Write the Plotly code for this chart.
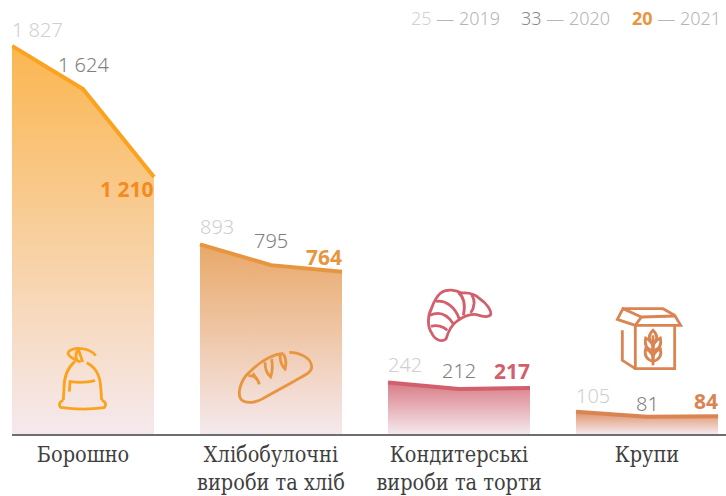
import re
import plotly.graph_objects as go

categories = ["Борошно", "Хлібобулочні<br>вироби та хліб", "Кондитерські<br>вироби та торти", "Крупи"]
years = [2019, 2020, 2021]
values_2019 = [1827, 893, 242, 105]
values_2020 = [1624, 795, 212, 81]
values_2021 = [1210, 764, 217, 84]
legend_counts = [25, 33, 20]

line_colors = ["#FBA21E", "#E8953F", "#D25F6B", "#DA8452"]
top_colors = ["#FBB650", "#E9A868", "#D97C86", "#DF9268"]
label_colors = ["#F58A1F", "#E8953F", "#D25F6B", "#DA8452"]
year_colors = ["#CFCFCF", "#808080"]
bottom_color = "#F5E9EE"
NUM_FONT = "Noto Sans"
CAT_FONT = "DejaVu Serif Condensed"

W, H = 726, 496
BASE_PX = 434
PX_PER_UNIT = 0.2124
GROUP_STEP = 188
OFFSET = 71 / GROUP_STEP

fmt = lambda v: f"{v:,}".replace(",", " ")

fig = go.Figure()
annotations = []
# vertical offset (px) of each label from its point
label_dy = [[16, 25, -12], [18, 25, 15], [18, 18, 17], [16, 13, 15]]
anchors = ["left", "center", "right"]

for i in range(4):
    vals = [values_2019[i], values_2020[i], values_2021[i]]
    xs = [i - OFFSET, i, i + OFFSET]
    fig.add_trace(go.Scatter(
        x=xs, y=vals, mode="lines", fill="tozeroy",
        line=dict(color=line_colors[i], width=4, shape="linear"),
        fillgradient=dict(type="vertical",
                          colorscale=[[0, bottom_color], [1, top_colors[i]]]),
        hoverinfo="skip", showlegend=False, cliponaxis=True,
    ))
    for j in range(3):
        bold = j == 2
        annotations.append(dict(
            x=xs[j], y=vals[j], xref="x", yref="y",
            text=f"<b>{fmt(vals[j])}</b>" if bold else fmt(vals[j]),
            showarrow=False, xanchor=anchors[j], yanchor="middle",
            yshift=label_dy[i][j], borderpad=0, borderwidth=0,
            font=dict(family=NUM_FONT, size=21 if bold else 20, weight=300,
                      color=label_colors[i] if bold else year_colors[j]),
        ))

# legend text
legend_x = [409, 519, 630]
legend_cols = ["#D2D2D2", "#8A8A8A", "#E8953F"]
for k in range(3):
    num = f"<b>{legend_counts[k]}</b>" if k == 2 else f"{legend_counts[k]}"
    annotations.append(dict(
        x=legend_x[k] / W, y=1 - 18 / H, xref="paper", yref="paper",
        xanchor="left", yanchor="middle", showarrow=False,
        text=f"<span style='color:{legend_cols[k]}'>{num}</span> — {years[k]}",
        font=dict(family=NUM_FONT, size=18, weight=300, color="#B5B5B5"),
    ))


def icon(path, ox, oy, color, width=2.8):
    """Decorative glyph: path written in 3x crop pixels, turned into paper coords."""
    toks = re.findall(r"[A-Za-z]|-?\d+\.?\d*", path)
    out, nx = [], True
    for t in toks:
        if t.isalpha():
            out.append(t); nx = True
        elif nx:
            out.append(f"{(ox + float(t) / 3) / W:.5f}"); nx = False
        else:
            out.append(f"{1 - (oy + float(t) / 3) / H:.5f}"); nx = True
    return dict(type="path", xref="paper", yref="paper", path=" ".join(out),
                line=dict(color=color, width=width), layer="above",
                fillcolor="rgba(0,0,0,0)")


bag = [
    "M137 47 C125 30 100 24 80 25 C62 27 52 35 55 43 C60 52 75 60 92 66",
    "M85 28 C76 40 76 52 82 64 M85 28 C90 42 94 54 98 66",
    "M75 64 C50 85 42 110 42 145 L40 180",
    "M110 68 C135 80 150 105 152 140 L155 180",
    "M40 180 C28 186 25 195 32 202 C70 208 125 208 162 203 C170 196 168 186 155 180",
    "M58 155 L60 125 C85 128 110 128 135 122",
]
bread = [
    "M178 22 C210 22 245 40 245 65 C245 85 215 95 195 107 L100 160 C80 172 50 178 35 165 C20 150 30 105 60 80 C90 50 125 28 160 25",
    "M55 92 C75 92 85 105 88 118 C85 108 78 95 68 85",
    "M105 52 C105 75 112 88 122 96 C128 78 128 60 125 42",
    "M150 30 C150 50 155 62 165 72 C170 55 168 40 160 27",
]
croissant = [
    "M62 30 C80 15 110 22 125 30 C150 28 165 32 180 48 C200 60 215 85 212 95 C205 105 185 100 170 95 C150 92 130 100 110 115 C95 125 85 145 78 168 C65 178 45 172 35 150 C22 130 22 100 35 75 C42 55 50 40 62 30 Z",
    "M33 130 C50 125 70 130 82 142",
    "M30 97 C55 85 80 92 100 122",
    "M48 55 C75 50 105 70 118 108",
    "M115 28 C135 45 135 75 130 97",
    "M155 35 C165 50 165 70 152 90",
]
box = [
    "M82 70 L200 70 L200 200 L82 200 Z",
    "M43 85 L43 175 L82 200",
    "M82 70 L28 52 L45 20 L100 45 Z",
    "M45 20 L165 20 L200 40 L218 70 L200 70",
    "M100 45 L200 42",
    "M135 190 L135 100",
    "M135 85 C120 100 120 112 135 125 C150 112 150 100 135 85 Z",
    "M113 108 C108 130 118 142 135 147 C137 128 128 115 113 108 Z",
    "M157 108 C162 130 152 142 135 147 C133 128 142 115 157 108 Z",
    "M113 140 C108 162 118 174 135 178 C137 160 128 147 113 140 Z",
    "M157 140 C162 162 152 174 135 178 C133 160 142 147 157 140 Z",
]
shapes = []
shapes += [icon(p, 50, 340, line_colors[0]) for p in bag]
shapes += [icon(p, 230, 345, line_colors[1]) for p in bread]
shapes += [icon(p, 420, 283, line_colors[2]) for p in croissant]
shapes += [icon(p, 608, 302, line_colors[3]) for p in box]

CENTER = 83
x0 = (12 - CENTER) / GROUP_STEP
x1 = (W - CENTER) / GROUP_STEP
fig.update_layout(
    width=W, height=H, autosize=False,
    margin=dict(l=0, r=0, t=0, b=0, pad=0),
    paper_bgcolor="white", plot_bgcolor="rgba(0,0,0,0)",
    annotations=annotations, shapes=shapes, showlegend=False,
    xaxis=dict(domain=[12 / W, 1], range=[x0, x1], tickmode="array", automargin=False,
               tickvals=list(range(4)), ticktext=categories, showgrid=False,
               zeroline=False, showline=True, linecolor="#6E6E6E", linewidth=1.5,
               ticks="outside", ticklen=0, tickcolor="rgba(0,0,0,0)",
               tickfont=dict(family=CAT_FONT, size=21.5, color="#3F3F3F")),
    yaxis=dict(domain=[(H - BASE_PX) / H, 1], range=[0, BASE_PX / PX_PER_UNIT],
               visible=False, automargin=False),
)
fig.write_html("out.html", config={"displayModeBar": False},
               post_script="document.body.style.margin='0';document.documentElement.style.overflow='hidden';")
